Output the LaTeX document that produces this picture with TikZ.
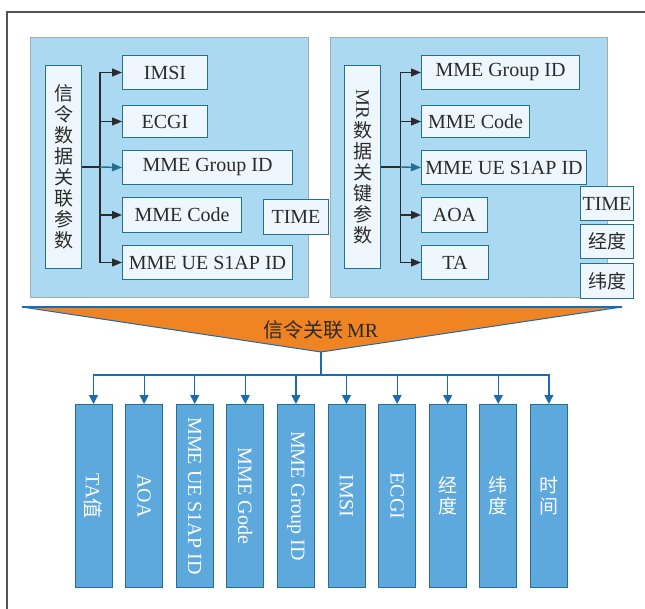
\documentclass[tikz,border=0pt]{standalone}
\usepackage{fontspec}
\setmainfont{Liberation Serif}
\newfontfamily\cjk{Noto Sans CJK SC}
\usepackage{xcolor}
\usetikzlibrary{arrows.meta,positioning,calc}

\definecolor{panelblue}{HTML}{ABD9F2}
\definecolor{panelgray}{HTML}{A3ABB1}
\definecolor{boxfill}{HTML}{EEF7FD}
\definecolor{boxline}{HTML}{24708F}
\definecolor{barfill}{HTML}{5DA8DC}
\definecolor{busblue}{HTML}{1B6BB3}
\definecolor{mrorange}{HTML}{F08422}
\definecolor{inkgray}{HTML}{2B2B2B}

\newcommand{\vtxt}[1]{\rotatebox{-90}{#1}}

\begin{document}
\begin{tikzpicture}[x=1pt, y=-1pt,
    every node/.style={font=\fontsize{20}{22}\selectfont, text=inkgray, inner sep=0pt},
    panel/.style={fill=panelblue, draw=panelgray, line width=1pt},
    param/.style={draw=boxline, fill=boxfill, line width=1pt, anchor=north west},
    cjkcol/.style={font=\fontsize{19}{21}\selectfont\cjk, align=center},
    bar/.style={draw=boxline, fill=barfill, line width=1pt, anchor=north,
        minimum width=37pt, minimum height=183pt, text=white},
    link/.style={draw=inkgray, line width=1.4pt, -{Triangle[length=10pt,width=8pt]}},
    buslink/.style={draw=busblue, line width=1.2pt, -{Triangle[length=9pt,width=9pt]}}]
    \useasboundingbox (0,0) rectangle (645,609);
    % frame
    \draw[inkgray!80, line width=1.5pt] (645,12) -- (7,12) -- (7,609);

    % signalling parameters
    \draw[panel] (30,38) rectangle (308,298);
    \node[param, minimum width=36pt, minimum height=203pt, cjkcol] (sigkey) at (45,65)
        {信\\令\\数\\据\\关\\联\\参\\数};
    \node[param, minimum width=85pt, minimum height=34pt] (simsi) at (122,55) {IMSI};
    \node[param, minimum width=85pt, minimum height=32pt] (secgi) at (122,105) {ECGI};
    \node[param, minimum width=170pt, minimum height=34pt] (sgid) at (122,150) {MME Group ID};
    \node[param, minimum width=119pt, minimum height=35pt] (scode) at (122,197) {MME Code};
    \node[param, minimum width=170pt, minimum height=34pt] (sueid) at (122,245) {MME UE S1AP ID};
    \node[param, minimum width=65pt, minimum height=35pt] (stime) at (263,199) {TIME};
    \coordinate (sj) at (100,167);
    \draw[inkgray, line width=1.4pt] (sigkey.east |- sj) -- (sj);
    \foreach \b in {simsi,secgi,scode,sueid}
        \draw[link] (sj) |- (\b.west);
    \draw[link, draw=boxline] (sj) -- (sgid.west);

    % MR parameters
    \draw[panel] (330,38) rectangle (607,298);
    \node[param, minimum width=36pt, minimum height=203pt, cjkcol] (mrkey) at (344,65)
        {\vtxt{\rmfamily MR}\\[2pt]数\\据\\关\\键\\参\\数};
    \node[param, minimum width=158pt, minimum height=34pt] (mgid) at (421,55) {MME Group ID};
    \node[param, minimum width=108pt, minimum height=32pt] (mcode) at (421,105) {MME Code};
    \node[param, minimum width=165pt, minimum height=34pt] (mueid) at (421,150) {MME UE S1AP ID};
    \node[param, minimum width=66pt, minimum height=35pt] (maoa) at (421,197) {AOA};
    \node[param, minimum width=67pt, minimum height=34pt] (mta) at (421,245) {TA};
    \node[param, minimum width=53pt, minimum height=34pt] (mtime) at (580,186) {TIME};
    \node[param, minimum width=53pt, minimum height=34pt, font=\fontsize{19}{21}\selectfont\cjk] (mlon) at (580,224) {经度};
    \node[param, minimum width=53pt, minimum height=35pt, font=\fontsize{19}{21}\selectfont\cjk] (mlat) at (580,263) {纬度};
    \coordinate (mj) at (400.5,167);
    \draw[inkgray, line width=1.4pt] (mrkey.east |- mj) -- (mj);
    \foreach \b in {mgid,mcode,maoa,mta}
        \draw[link] (mj) |- (\b.west);
    \draw[link, draw=boxline] (mj) -- (mueid.west);

    % merge into signalling-associated MR
    \coordinate (tl) at (22,307);
    \coordinate (tr) at (622,307);
    \coordinate (apex) at (321,352);
    \draw[fill=mrorange, draw=busblue, line width=1pt] (tl) -- (tr) -- (apex) -- cycle;
    \draw[busblue, line width=2pt] (tl) -- (tr);
    \node (mrlabel) at (321,330) {{\cjk 信令关联}\,MR};

    % output fields
    \node[bar] (b1) at (93.5,404) {\vtxt{TA{\cjk 值}}};
    \node[bar] (b2) at (144.1,404) {\vtxt{AOA}};
    \node[bar] (b3) at (194.7,404) {\vtxt{MME UE S1AP ID}};
    \node[bar] (b4) at (245.3,404) {\vtxt{MME Gode}};
    \node[bar] (b5) at (295.9,404) {\vtxt{MME Group ID}};
    \node[bar] (b6) at (346.5,404) {\vtxt{IMSI}};
    \node[bar] (b7) at (397.1,404) {\vtxt{ECGI}};
    \node[bar, cjkcol, text=white] (b8) at (447.7,404) {经\\度};
    \node[bar, cjkcol, text=white] (b9) at (498.3,404) {纬\\度};
    \node[bar, cjkcol, text=white] (b10) at (548.9,404) {时\\间};
    \coordinate (bus) at (321,375);
    \foreach \i in {1,...,10}
        \draw[buslink] (apex) -- (bus) -| (b\i.north);
\end{tikzpicture}
\end{document}
